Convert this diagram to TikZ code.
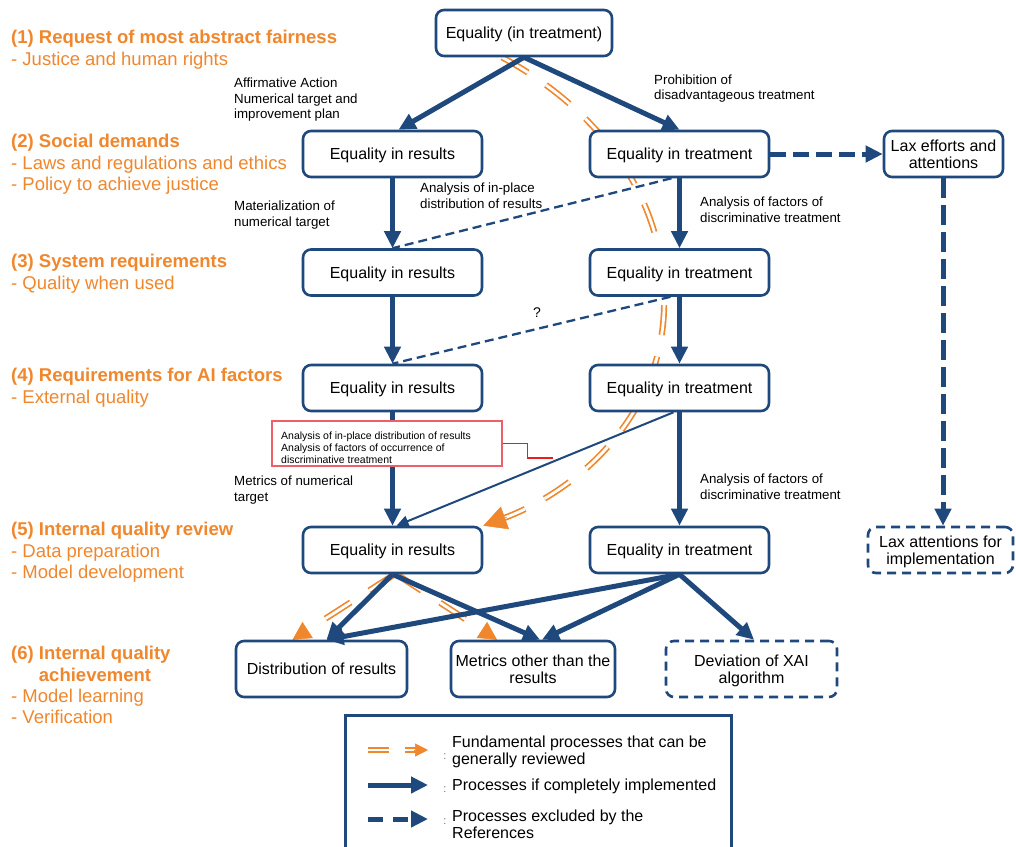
\documentclass[tikz,border=0pt]{standalone}
\usepackage{fontspec}
\setmainfont{Liberation Sans}
\usetikzlibrary{arrows.meta,calc}
\definecolor{bl}{RGB}{31,73,125}
\definecolor{orc}{RGB}{240,135,45}
\definecolor{redc}{RGB}{235,30,30}
\definecolor{redb}{RGB}{238,95,105}
\begin{document}
\begin{tikzpicture}[x=1pt,y=-1pt,
  box/.style={draw=bl, line width=2.6pt, rounded corners=8pt, fill=white, minimum width=179pt, minimum height=46pt, inner sep=2pt, align=center, text depth=0pt, font=\fontsize{16}{17}\selectfont},
  dbox/.style={box, dash pattern=on 9pt off 6pt},
  main/.style={draw=bl, line width=5pt, -{Triangle[length=17pt,width=16pt]}},
  excl/.style={draw=bl, line width=5pt, dash pattern=on 16pt off 7pt, -{Triangle[length=17pt,width=16pt]}},
  thindash/.style={draw=bl, line width=2.3pt, dash pattern=on 9pt off 5pt},
  thinsolid/.style={draw=bl, line width=2pt, -{Triangle[length=12pt,width=11pt]}},
  orline/.style={draw=orc, line width=1.7pt, double=white, double distance=2.8pt, dash pattern=on 30pt off 22pt},
  orhead/.style={draw=orc, fill=orc, line width=0.5pt, -{Triangle[length=18pt,width=19pt]}},
  lbl/.style={font=\fontsize{13.3}{15.5}\selectfont, align=left, anchor=north west, inner sep=0pt},
  head/.style={text=orc, font=\fontsize{18.5}{21.5}\selectfont, align=left, anchor=north west, inner sep=0pt},
  leg/.style={font=\fontsize{16}{17}\selectfont, align=left, anchor=north west, inner sep=0pt},
  colon/.style={font=\fontsize{11}{12}\selectfont, text=black!55, inner sep=0pt}
]
\fill[white] (0,0) rectangle (1016,846);
\useasboundingbox (0,0) rectangle (1016,846);
\clip (0,0) rectangle (1016,846);

% --- node positions (coordinates only, boxes drawn later) ---
\path
  (524,33)     node[box, minimum width=176pt, draw=none, fill=none] (top) {}
  (392.5,154)  node[box, draw=none, fill=none] (r2l) {}
  (679.5,154)  node[box, draw=none, fill=none] (r2r) {}
  (392.5,272.5) node[box, draw=none, fill=none] (r3l) {}
  (679.5,272.5) node[box, draw=none, fill=none] (r3r) {}
  (392.5,388)  node[box, draw=none, fill=none] (r4l) {}
  (679.5,388)  node[box, draw=none, fill=none] (r4r) {}
  (392.5,550)  node[box, draw=none, fill=none] (r5l) {}
  (679.5,550)  node[box, draw=none, fill=none] (r5r) {}
  (321.5,669)  node[box, minimum width=171pt, minimum height=56pt, draw=none, fill=none] (d1) {}
  (533,669)    node[box, minimum width=164pt, minimum height=56pt, draw=none, fill=none] (d2) {};

% --- orange fundamental processes (behind boxes) ---
\draw[orline, shorten >=20pt] ([xshift=-22pt]top.south) .. controls (600,110) and (668,200) .. (664,310)
   .. controls (660,420) and (575,492) .. (r5l.north east);
\draw[orhead, -{Triangle[length=23pt,width=24pt]}] ($(r5l.north east)+(23.5,-8.5)$) -- (r5l.north east);
\coordinate (o1) at ([xshift=-29pt]d1.north);
\coordinate (o2) at ([xshift=-36pt]d2.north);
\draw[orline, shorten >=16pt] ([xshift=2pt]r5l.south) -- (o1);
\draw[orhead] ($(o1)!18pt!([xshift=2pt]r5l.south)$) -- (o1);
\draw[orline, shorten >=16pt] ([xshift=4pt]r5l.south) -- (o2);
\draw[orhead] ($(o2)!18pt!([xshift=4pt]r5l.south)$) -- (o2);

% --- boxes ---
\node[box, minimum width=176pt] (top) at (524,33) {Equality (in treatment)};
\node[box] (r2l) at (392.5,154) {Equality in results};
\node[box] (r2r) at (679.5,154) {Equality in treatment};
\node[box, minimum width=119pt] (lax) at (943.5,154) {Lax efforts and\\attentions};
\node[box] (r3l) at (392.5,272.5) {Equality in results};
\node[box] (r3r) at (679.5,272.5) {Equality in treatment};
\node[box] (r4l) at (392.5,388) {Equality in results};
\node[box] (r4r) at (679.5,388) {Equality in treatment};
\node[box] (r5l) at (392.5,550) {Equality in results};
\node[box] (r5r) at (679.5,550) {Equality in treatment};
\node[dbox, minimum width=145pt] (laxi) at (940.5,550) {Lax attentions for\\implementation};
\node[box, minimum width=171pt, minimum height=56pt] (d1) at (321.5,669) {Distribution of results};
\node[box, minimum width=164pt, minimum height=56pt] (d2) at (533,669) {Metrics other than the\\results};
\node[dbox, minimum width=171pt, minimum height=56pt] (d3) at (751.5,669) {Deviation of XAI\\algorithm};

% --- blue connectors ---
\draw[main] (top.south) -- ([xshift=6pt]r2l.north);
\draw[main] (top.south) -- (r2r.north);
\draw[excl] (r2r.east) -- (lax.west);
\draw[excl, dash pattern=on 20pt off 7pt] ([xshift=-0.5pt]lax.south) -- ([xshift=-0.5pt]lax.south |- laxi.north);
\draw[main] (r2l) -- (r3l);
\draw[main] (r2r) -- (r3r);
\draw[thindash] ([xshift=-8pt]r2r.south) -- (r3l.north);
\draw[main] (r3l) -- (r4l);
\draw[main] (r3r) -- (r4r);
\draw[thindash] ([xshift=-9pt]r3r.south) -- (r4l.north);
\draw[main] (r4l) -- (r5l);
\draw[main] (r4r) -- (r5r);
\draw[thinsolid] ([xshift=-6pt]r4r.south) -- ([xshift=4pt]r5l.north);
\draw[main] (r5l.south) -- ([xshift=5pt]d1.north);
\draw[main] (r5l.south) -- ([xshift=7pt]d2.north);
\draw[main] (r5r.south) -- ([xshift=5pt]d1.north);
\draw[main] (r5r.south) -- ([xshift=9pt]d2.north);
\draw[main] (r5r.south) -- ([xshift=2.5pt]d3.north);

% --- red annotation box ---
\node[draw=redb, line width=1.5pt, fill=white, minimum width=230pt, minimum height=45pt, inner sep=0pt] (redbox) at (387,443.5) {};
\node[anchor=north west, inner sep=0pt, align=left, font=\fontsize{10.5}{12}\selectfont] (redtext) at (281,432)
  {Analysis of in-place distribution of results\\Analysis of factors of occurrence of\\discriminative treatment};
\coordinate (redend) at (553,458);
\draw[redc, line width=1.3pt] (redbox.east) -- ++(25,0) |- (redend);

% --- labels ---
\node[lbl] (la1) at (234,78) {Affirmative Action\\Numerical target and\\improvement plan};
\node[lbl, font=\fontsize{13.3}{15}\selectfont] (la2) at (654,75) {Prohibition of\\disadvantageous treatment};
\node[lbl] (la3) at (234,201) {Materialization of\\numerical target};
\node[lbl, font=\fontsize{13.3}{16}\selectfont] (la4) at (420,183) {Analysis of in-place\\distribution of results};
\node[lbl] (la5) at (700,197) {Analysis of factors of\\discriminative treatment};
\node[lbl] (la6) at (234,476) {Metrics of numerical\\target};
\node[lbl] (la7) at (700,474) {Analysis of factors of\\discriminative treatment};
\node[font=\fontsize{14}{16}\selectfont, inner sep=0pt] (qm) at (537,313) {?};

% --- left headings ---
\node[head] (h1) at (11,30.3) {\textbf{(1) Request of most abstract fairness}\\- Justice and human rights};
\node[head] (h2) at (11,134.3) {\textbf{(2) Social demands}\\- Laws and regulations and ethics\\- Policy to achieve justice};
\node[head] (h3) at (11,254.3) {\textbf{(3) System requirements}\\- Quality when used};
\node[head] (h4) at (11,368.3) {\textbf{(4) Requirements for AI factors}\\- External quality};
\node[head] (h5) at (11,522.3) {\textbf{(5) Internal quality review}\\- Data preparation\\- Model development};
\node[head, font=\fontsize{18.5}{21.3}\selectfont] (h6) at (11,646.3) {\textbf{(6) Internal quality}\\\textbf{\phantom{(6) }achievement}\\- Model learning\\- Verification};

% --- legend ---
\node[draw=bl, line width=3pt, minimum width=386pt, minimum height=150pt, anchor=north west, inner sep=0pt] (legend) at (344,714) {};
\coordinate (la) at (368,750);
\coordinate (lb) at (389,750);
\coordinate (lc) at (405,750);
\coordinate (ld) at (428,750);
\draw[orline, dash pattern=] (la) -- (lb);
\draw[orline, dash pattern=, shorten >=12pt] (lc) -- (ld);
\draw[orhead, -{Triangle[length=13pt,width=13pt]}] ($(ld)+(-14,0)$) -- (ld);
\coordinate (lm1) at (368,785);
\coordinate (lm2) at (428,785);
\draw[main] (lm1) -- (lm2);
\coordinate (le1) at (368,819);
\coordinate (le2) at (428,819);
\draw[excl, dash pattern=on 15pt off 10pt] (le1) -- (le2);
\node[colon] (c1) at (445,757) {:};
\node[colon] (c2) at (445,790) {:};
\node[colon] (c3) at (445,822) {:};
\node[leg] (t1) at (452,736) {Fundamental processes that can be\\generally reviewed};
\node[leg] (t2) at (452,779) {Processes if completely implemented};
\node[leg] (t3) at (452,810) {Processes excluded by the\\References};
\end{tikzpicture}
\end{document}
